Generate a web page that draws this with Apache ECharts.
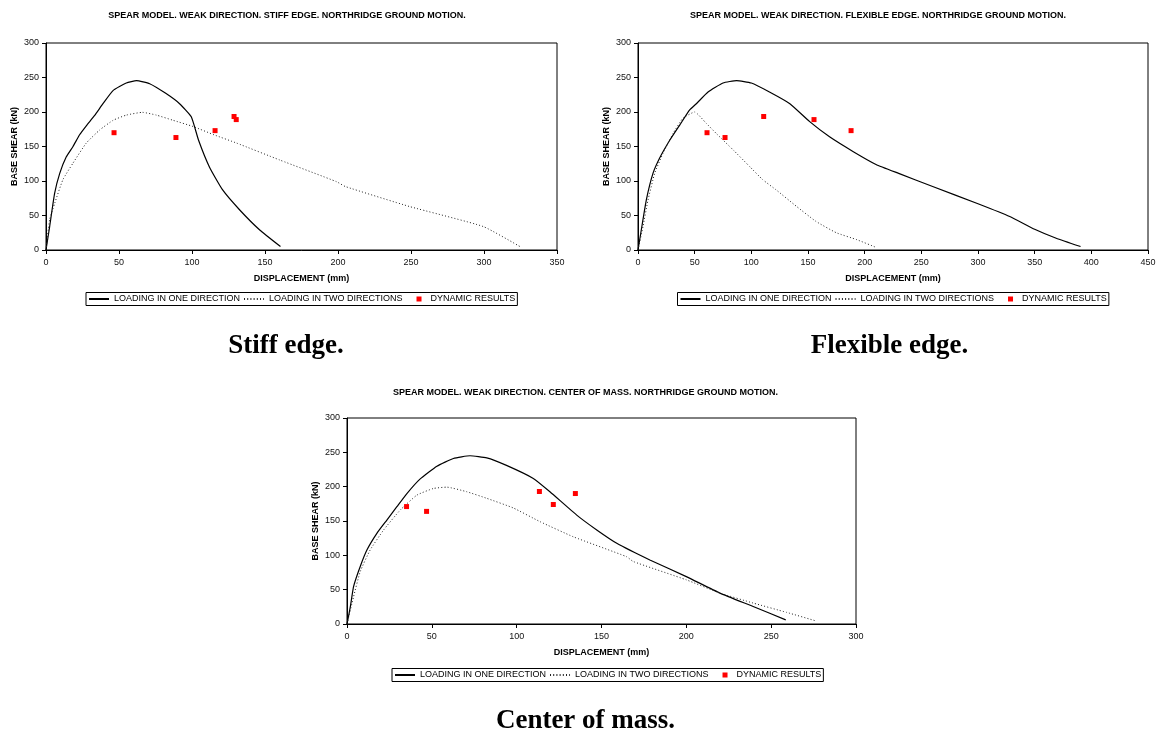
<!DOCTYPE html>
<html>
<head>
<meta charset="utf-8">
<script src="https://cdn.jsdelivr.net/npm/echarts@6/dist/echarts.min.js"></script>
<style>
  html, body { margin: 0; padding: 0; background: #fff; }
  #chart { width: 1157px; height: 732px; }
</style>
</head>
<body>
<div id="chart"></div>
<script>
// Pushover curves (displacement mm, base shear kN) and dynamic analysis peaks
const seriesNames = ['LOADING IN ONE DIRECTION', 'LOADING IN TWO DIRECTIONS', 'DYNAMIC RESULTS'];

const stiffOneDir = [[0,0],[2.5,34],[5.9,82],[9.4,111],[13.9,135],[18.5,150],[23,167],[27.6,180],[33.3,195],[39,212],[45.9,231],[55,242],[62,245.5],[71,241],[82,227],[91.5,212],[99.5,193],[104.5,159],[112,120],[121,87],[132.7,58],[146.4,29],[160.6,5]];
const stiffTwoDir = [[0,0],[2.5,44],[6,68],[11.6,102],[18.5,126],[27.6,155],[36.8,174],[46,188],[55,195.5],[66,199.5],[75.6,195.5],[87,188],[100.7,179],[115,167],[130.5,155],[160,130.5],[199,99],[205,92],[249,63],[299.5,34],[324.6,5]];
const stiffDynamic = [[46.6,170],[89,163],[115.8,173],[128.8,193.5],[130.3,189]];

const flexOneDir = [[0,0],[2.9,29],[7.4,73],[13.2,111],[19,133],[28,159],[36.8,181],[45.6,203],[51.5,212],[61.8,229],[75,242],[87,245.5],[100,242],[116,229],[134,212],[151.5,186],[169,164],[190,142.5],[210,124],[230,111],[260,92],[300,67],[328,48.5],[350,30],[369,17],[390.5,5]];
const flexTwoDir = [[0,0],[4.4,34],[8.8,72],[14.7,111],[22,140],[31,169],[39.7,191],[50,200],[60,184],[69,169],[84,145],[98.5,121],[110,102],[122,87],[140,63],[157,41.5],[175,25],[193,15],[209,4.5]];
const flexDynamic = [[60.9,170],[76.8,163],[110.9,193.5],[155.3,189],[188,173]];

const massOneDir = [[0,0],[2,25.6],[3.9,54.7],[7.8,83.7],[11.8,108],[17.6,132],[23.5,151.4],[29.4,170.8],[35.3,190],[43,211],[53,229.8],[62.7,241],[72.5,245],[82.4,242],[94,231],[109.8,212],[119.6,192.6],[135.4,158.6],[147.2,137],[159,117.6],[178.5,93.3],[200,69],[219.8,45],[239.4,25.5],[258.6,6]];
const massTwoDir = [[0,0],[3.9,40],[7.8,76.4],[13.7,108],[21.6,137],[31.4,166],[41.2,187.7],[51,197.4],[58.8,199.3],[70.6,192.6],[82.4,183],[98,169],[113.8,149],[133.4,127],[164.8,98],[168.7,91],[200,64.3],[219.8,45],[239.4,30.5],[259,17],[275.7,5]];
const massDynamic = [[35.1,171],[46.9,164],[113.4,193],[121.6,174],[134.6,190]];

const panelTitles = [
  'SPEAR MODEL. WEAK DIRECTION. STIFF EDGE. NORTHRIDGE GROUND MOTION.',
  'SPEAR MODEL. WEAK DIRECTION. FLEXIBLE EDGE. NORTHRIDGE GROUND MOTION.',
  'SPEAR MODEL. WEAK DIRECTION. CENTER OF MASS. NORTHRIDGE GROUND MOTION.'
];
const panelCaptions = ['Stiff edge.', 'Flexible edge.', 'Center of mass.'];
const xMax = [350, 450, 300];
const xAxisName = 'DISPLACEMENT (mm)';
const yAxisName = 'BASE SHEAR (kN)';

const SANS = '"Liberation Sans", Arial, sans-serif';
const SERIF = '"Liberation Serif", "Times New Roman", serif';

// panel placement on the page
const panels = [
  { grid: { left: 46, top: 43, width: 511, height: 207 }, legend: { left: 86, top: 292.5 }, titleX: 287, titleY: 16, captionX: 286, captionY: 346,
    data: [stiffOneDir, stiffTwoDir, stiffDynamic] },
  { grid: { left: 638, top: 43, width: 510, height: 207 }, legend: { left: 677.5, top: 292.5 }, titleX: 878, titleY: 16, captionX: 889.5, captionY: 346,
    data: [flexOneDir, flexTwoDir, flexDynamic] },
  { grid: { left: 347, top: 418, width: 509, height: 206 }, legend: { left: 392, top: 668.5 }, titleX: 585.5, titleY: 392.5, captionX: 585.5, captionY: 721,
    data: [massOneDir, massTwoDir, massDynamic] }
];

const grids = [], xAxes = [], yAxes = [], series = [], legends = [], graphics = [];

// small red square sitting inside a 20x9 legend icon box
const squareIcon = 'path://M0,0L0.01,0Z M11,2h5v5h-5Z M20,9L19.99,9Z';

panels.forEach((p, i) => {
  grids.push(Object.assign({
    show: true, borderColor: '#000', borderWidth: 1, backgroundColor: 'transparent',
    containLabel: false, outerBoundsMode: 'none'
  }, p.grid));

  xAxes.push({
    type: 'value', gridIndex: i, min: 0, max: xMax[i], interval: 50,
    name: xAxisName, nameLocation: 'middle', nameGap: 24,
    nameTextStyle: { fontFamily: SANS, fontSize: 9, fontWeight: 'bold', color: '#000' },
    axisLine: { show: true, onZero: false, lineStyle: { color: '#000', width: 1 } },
    axisTick: { show: true, inside: false, length: 4, lineStyle: { color: '#000' } },
    axisLabel: { fontFamily: SANS, fontSize: 9, color: '#111', margin: 8 },
    splitLine: { show: false }
  });
  yAxes.push({
    type: 'value', gridIndex: i, min: 0, max: 300, interval: 50,
    name: yAxisName, nameLocation: 'middle', nameGap: 27, nameRotate: 90,
    nameTextStyle: { fontFamily: SANS, fontSize: 9, fontWeight: 'bold', color: '#000' },
    axisLine: { show: true, onZero: false, lineStyle: { color: '#000', width: 1 } },
    axisTick: { show: true, inside: false, length: 4, lineStyle: { color: '#000' } },
    axisLabel: { fontFamily: SANS, fontSize: 9, color: '#111', margin: 7 },
    splitLine: { show: false }
  });

  series.push({
    name: seriesNames[0], type: 'line', xAxisIndex: i, yAxisIndex: i,
    data: p.data[0], symbol: 'none', smooth: 0.15,
    lineStyle: { color: '#000', width: 1.2, type: 'solid' }, itemStyle: { color: '#000' },
    silent: true, z: 2
  });
  series.push({
    name: seriesNames[1], type: 'line', xAxisIndex: i, yAxisIndex: i,
    data: p.data[1], symbol: 'none', smooth: 0.15,
    lineStyle: { color: '#222', width: 1, type: [1, 2.2] }, itemStyle: { color: '#222' },
    silent: true, z: 2
  });
  series.push({
    name: seriesNames[2], type: 'scatter', xAxisIndex: i, yAxisIndex: i,
    data: p.data[2], symbol: 'rect', symbolSize: 5,
    itemStyle: { color: '#ff0000', opacity: 1 }, silent: true, z: 3
  });

  legends.push({
    show: true, orient: 'horizontal', left: p.legend.left, top: p.legend.top,
    data: [
      { name: seriesNames[0], itemStyle: { opacity: 0 } },
      { name: seriesNames[1], itemStyle: { opacity: 0 } },
      { name: seriesNames[2], icon: squareIcon, itemStyle: { color: '#ff0000', opacity: 1 } }
    ],
    itemWidth: 20, itemHeight: 9, itemGap: 3, padding: [2, 2, 2, 2],
    borderColor: '#000', borderWidth: 1, backgroundColor: '#fff',
    selectedMode: false,
    textStyle: { fontFamily: SANS, fontSize: 9, color: '#000', lineHeight: 9 }
  });

  graphics.push({
    type: 'text', x: p.titleX, y: p.titleY, silent: true,
    style: { text: panelTitles[i], font: 'bold 9px ' + SANS, fill: '#000', textAlign: 'center', textVerticalAlign: 'middle' }
  });
  graphics.push({
    type: 'text', x: p.captionX, y: p.captionY, silent: true,
    style: { text: panelCaptions[i], font: 'bold 27px ' + SERIF, fill: '#000', textAlign: 'center', textVerticalAlign: 'middle' }
  });
});

const chart = echarts.init(document.getElementById('chart'), null, { renderer: 'canvas' });
chart.setOption({
  animation: false,
  backgroundColor: '#fff',
  grid: grids,
  xAxis: xAxes,
  yAxis: yAxes,
  legend: legends,
  series: series,
  graphic: graphics,
  tooltip: { show: false }
});
</script>
</body>
</html>
